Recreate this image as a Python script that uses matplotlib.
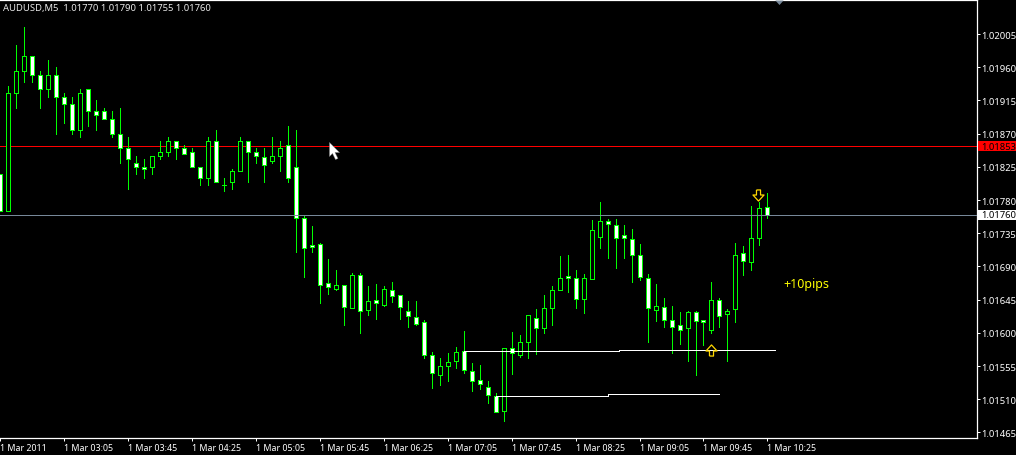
import numpy as np
import matplotlib
matplotlib.use("Agg")
import matplotlib.pyplot as plt
from matplotlib.path import Path
from matplotlib.patches import Rectangle
from matplotlib.transforms import blended_transform_factory

plt.rcParams['font.family'] = ['Noto Sans', 'DejaVu Sans']

opens = [1.01815,1.01765,1.01925,1.01955,1.01975,1.01950,1.01930,1.01950,1.01920,1.01910,1.01875,
 1.01930,1.01900,1.01900,1.01890,1.01870,1.01850,1.01830,1.01825,1.01825,1.01840,
 1.01845,1.01860,1.01850,1.01845,1.01825,1.01810,1.01860,1.01800,1.01805,1.01820,
 1.01860,1.01845,1.01838,1.01833,1.01840,1.01855,1.01825,1.01755,1.01719,1.01720,
 1.01667,1.01660,1.01665,1.01633,1.01678,1.01631,1.01644,1.01638,1.01658,1.01651,
 1.01629,1.01622,1.01614,1.01570,1.01543,1.01555,1.01562,1.01575,1.01548,1.01536,
 1.01527,1.01515,1.01494,1.01579,1.01570,1.01588,1.01620,1.01606,1.01634,1.01658,
 1.01677,1.01674,1.01646,1.01673,1.01730,1.01752,1.01746,1.01733,1.01727,1.01706,
 1.01674,1.01631,1.01635,1.01617,1.01610,1.01607,1.01628,1.01618,1.01604,1.01644,
 1.01625,1.01632,1.01708,1.01696,1.01729,1.01770]
highs = [1.01815,1.01935,1.01990,1.02015,1.01975,1.01955,1.01970,1.01960,1.01925,1.01920,1.01930,
 1.01930,1.01915,1.01905,1.01900,1.01905,1.01865,1.01840,1.01835,1.01840,1.01860,
 1.01865,1.01860,1.01855,1.01850,1.01825,1.01865,1.01875,1.01810,1.01822,1.01865,
 1.01860,1.01850,1.01850,1.01865,1.01860,1.01880,1.01875,1.01760,1.01745,1.01722,
 1.01700,1.01685,1.01665,1.01681,1.01681,1.01663,1.01666,1.01663,1.01669,1.01651,
 1.01643,1.01643,1.01617,1.01574,1.01566,1.01573,1.01581,1.01602,1.01559,1.01556,
 1.01535,1.01518,1.01580,1.01601,1.01597,1.01624,1.01632,1.01651,1.01664,1.01704,
 1.01705,1.01685,1.01680,1.01753,1.01777,1.01754,1.01754,1.01746,1.01741,1.01720,
 1.01680,1.01666,1.01647,1.01636,1.01628,1.01630,1.01630,1.01618,1.01669,1.01647,
 1.01632,1.01722,1.01718,1.01772,1.01777,1.01790]
lows = [1.01765,1.01765,1.01905,1.01940,1.01940,1.01905,1.01920,1.01870,1.01885,1.01870,1.01865,
 1.01880,1.01875,1.01890,1.01865,1.01830,1.01795,1.01815,1.01810,1.01815,1.01835,
 1.01840,1.01835,1.01842,1.01825,1.01800,1.01800,1.01805,1.01792,1.01795,1.01820,
 1.01805,1.01830,1.01805,1.01830,1.01820,1.01805,1.01710,1.01675,1.01710,1.01640,
 1.01653,1.01658,1.01610,1.01633,1.01600,1.01624,1.01619,1.01636,1.01642,1.01619,
 1.01608,1.01611,1.01566,1.01525,1.01529,1.01535,1.01552,1.01546,1.01521,1.01524,
 1.01505,1.01493,1.01480,1.01544,1.01567,1.01566,1.01571,1.01600,1.01611,1.01658,
 1.01655,1.01634,1.01627,1.01673,1.01715,1.01701,1.01688,1.01701,1.01669,1.01672,
 1.01588,1.01616,1.01608,1.01573,1.01585,1.01562,1.01543,1.01583,1.01600,1.01608,
 1.01562,1.01615,1.01678,1.01685,1.01719,1.01755]
closes = [1.01765,1.01925,1.01955,1.01975,1.01950,1.01930,1.01950,1.01920,1.01910,1.01875,1.01925,
 1.01900,1.01895,1.01890,1.01870,1.01850,1.01835,1.01825,1.01822,1.01840,1.01845,
 1.01860,1.01850,1.01842,1.01825,1.01810,1.01860,1.01805,1.01800,1.01820,1.01860,
 1.01845,1.01840,1.01828,1.01840,1.01850,1.01810,1.01755,1.01715,1.01716,1.01665,
 1.01662,1.01665,1.01635,1.01678,1.01630,1.01643,1.01640,1.01659,1.01650,1.01635,
 1.01623,1.01612,1.01570,1.01546,1.01555,1.01561,1.01574,1.01549,1.01535,1.01530,
 1.01516,1.01493,1.01580,1.01572,1.01587,1.01624,1.01607,1.01633,1.01658,1.01674,
 1.01674,1.01646,1.01674,1.01739,1.01751,1.01747,1.01728,1.01728,1.01705,1.01675,
 1.01633,1.01636,1.01618,1.01608,1.01604,1.01628,1.01616,1.01615,1.01645,1.01623,
 1.01629,1.01706,1.01698,1.01728,1.01769,1.01760]

price_ticks = [1.02005,1.01960,1.01915,1.01870,1.01825,1.01780,1.01735,1.01690,
               1.01645,1.01600,1.01555,1.01510,1.01465]
time_labels = ["1 Mar 2011","1 Mar 03:05","1 Mar 03:45","1 Mar 04:25","1 Mar 05:05",
               "1 Mar 05:45","1 Mar 06:25","1 Mar 07:05","1 Mar 07:45","1 Mar 08:25",
               "1 Mar 09:05","1 Mar 09:45","1 Mar 10:25"]
time_idx = [-1,7,15,23,31,39,47,55,63,71,79,87,95]
bid_level = 1.01853
last_level = 1.01760
upper_trend = ([57,76.45,76.45,96],[1.01575,1.01575,1.01577,1.01577])
lower_trend = ([61,75,75,89],[1.01515,1.01515,1.01517,1.01517])
up_arrow_pos = (88,1.01577)
down_arrow_pos = (93.8,1.01787)
cursor_pos = (40.2,1.01859)
note_pos = (97,1.01667)

W,H = 1016,456
L,R,T,B = 0,976.5,0.5,438.5
fig = plt.figure(figsize=(W/100,H/100),dpi=100,facecolor='black')
ax = fig.add_axes([L/W,1-B/H,(R-L)/W,(B-T)/H],facecolor='black')
ax.set_xlim(-0.916,121.15)
ax.set_ylim(1.014581,1.020518)

idx = np.arange(len(opens))-1
o,h,l,c = map(np.array,(opens,highs,lows,closes))
GREEN='#00ff00'
ax.vlines(idx,l,h,color=GREEN,lw=0.72,zorder=3,antialiased=False)
top = np.maximum(o,c); bot = np.minimum(o,c)
face = ['white' if ci<oi else 'black' for oi,ci in zip(o,c)]
ax.bar(idx,top-bot,bottom=bot,width=0.5,color=face,edgecolor=GREEN,linewidth=0.72,
       zorder=4,antialiased=False)

ax.axhline(bid_level,color='#ff0000',lw=0.5,zorder=2,antialiased=False)
ax.axhline(last_level,color='#778899',lw=0.72,zorder=5,antialiased=False)
ax.plot(*upper_trend,color='white',lw=0.72,zorder=6,antialiased=False)
ax.plot(*lower_trend,color='white',lw=0.72,zorder=6,antialiased=False)

up_marker = Path(np.array([(-2,-5.5),(2,-5.5),(2,-0.5),(5.5,-0.5),(0,5.5),(-5.5,-0.5),(-2,-0.5),(-2,-5.5)]))
down_marker = Path(np.array([(-2,5.5),(2,5.5),(2,0.5),(5.5,0.5),(0,-5.5),(-5.5,0.5),(-2,0.5),(-2,5.5)]))
for mk,pos in ((up_marker,up_arrow_pos),(down_marker,down_arrow_pos)):
    ax.plot([pos[0]],[pos[1]],marker=mk,ms=8,mfc='none',mec='#ffd700',mew=0.9,zorder=7,ls='none')

cursor = Path(np.array([(0,0),(0,-14),(3,-11),(6,-17),(8.5,-16),(5.5,-10),(10,-10),(0,0)],dtype=float))
ax.plot([cursor_pos[0]],[cursor_pos[1]],marker=cursor,ms=24.5,mfc='white',mec='#808080',mew=0.3,zorder=8,ls='none')

tri = Path(np.array([(-4.5,0),(4.5,0),(0,-5),(-4.5,0)],dtype=float))
ax.plot([96.5],[1.0],marker=tri,ms=6.5,mfc='#778899',mec='#778899',mew=0,
        transform=blended_transform_factory(ax.transData,ax.transAxes),clip_on=False,zorder=8,ls='none')

ax.text(note_pos[0],note_pos[1],"+10pips",color='#ffff00',fontsize=9,ha='left',va='center',zorder=8)
fig.text(3/W,1-8/H,"AUDUSD,M5  1.01770 1.01790 1.01755 1.01760",color='#e8e8e8',fontsize=6.8,
         ha='left',va='center')

for s in ('top','right','bottom'):
    ax.spines[s].set_color('white'); ax.spines[s].set_linewidth(0.9)
ax.spines['left'].set_visible(False)

ax.yaxis.tick_right()
ax.set_yticks(price_ticks)
ax.set_yticklabels([f"{p:.5f}" for p in price_ticks])
ax.tick_params(axis='y',colors='white',length=2.2,width=0.72,labelsize=6.8,pad=1.2)
ax.set_xticks(time_idx)
ax.set_xticklabels(time_labels,ha='left')
ax.tick_params(axis='x',colors='white',length=2.2,width=0.72,labelsize=6.4,pad=1.6)

trans = ax.get_yaxis_transform()
for level,bg in ((bid_level,'#ff0000'),(last_level,'white')):
    ax.add_patch(Rectangle((1.0016,level-0.00007),0.04,0.00014,transform=trans,facecolor=bg,
                           edgecolor='none',clip_on=False,zorder=9))
    ax.text(1+5.0/976.5,level,f"{level:.5f}",transform=trans,color='black',fontsize=6.8,
            ha='left',va='center',clip_on=False,zorder=10)

fig.savefig('out.png',dpi=100,facecolor='black')
